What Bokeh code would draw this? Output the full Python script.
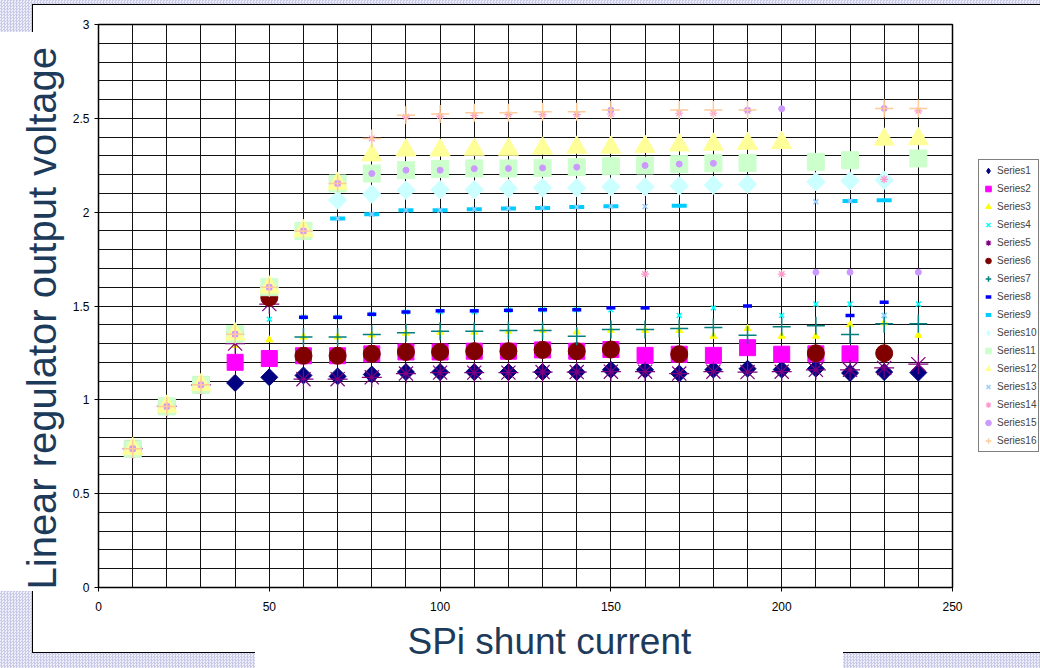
import numpy as np
from bokeh.plotting import figure
from bokeh.layouts import row
from bokeh.models import Range1d, FixedTicker, Title
from bokeh.embed import file_html
from bokeh.resources import INLINE

nan = float("nan")

x_vals = [10, 20, 30, 40, 50, 60, 70, 80, 90, 100, 110, 120, 130, 140, 150, 160, 170, 180, 190, 200, 210, 220, 230, 240]

s1 = [0.74, 0.965, 1.08, 1.09, 1.12, 1.13, 1.125, 1.135, 1.148, 1.148, 1.148, 1.148, 1.148, 1.148, 1.16, 1.16, 1.14, 1.161, 1.166, 1.161, 1.166, 1.143, 1.148, 1.145]
s2 = [0.74, 0.965, 1.08, 1.2, 1.22, 1.235, 1.235, 1.245, 1.255, 1.255, 1.259, 1.259, 1.266, 1.259, 1.268, 1.237, 1.243, 1.237, 1.278, 1.243, 1.245, 1.245, nan, nan]
s3 = [0.74, 0.965, 1.08, 1.29, 1.32, 1.335, 1.335, 1.345, 1.355, 1.36, 1.36, 1.365, 1.37, 1.362, 1.37, 1.37, 1.37, 1.339, 1.38, 1.339, 1.339, 1.4, 1.41, 1.344]
s4 = [0.74, 0.965, 1.08, 1.35, 1.43, 1.44, 1.44, 1.456, 1.468, 1.47, 1.47, 1.477, 1.48, 1.48, 1.48, nan, 1.45, 1.49, nan, 1.45, 1.51, 1.51, 1.45, 1.51]
s5 = [0.74, 0.965, 1.08, 1.3, 1.51, 1.11, 1.11, 1.12, 1.14, 1.145, 1.145, 1.145, 1.148, 1.148, 1.15, 1.15, 1.14, 1.15, 1.148, 1.15, 1.16, 1.16, 1.17, 1.19]
s6 = [0.74, 0.965, 1.08, 1.35, 1.545, 1.235, 1.235, 1.245, 1.255, 1.255, 1.259, 1.259, 1.266, 1.259, 1.268, nan, 1.243, nan, nan, nan, 1.248, nan, 1.248, nan]
s7 = [0.74, 0.965, 1.08, 1.35, 1.6, 1.335, 1.335, 1.348, 1.358, 1.365, 1.365, 1.37, 1.37, 1.339, 1.375, 1.375, 1.38, 1.385, 1.344, 1.39, 1.395, 1.348, 1.405, 1.405]
s8 = [0.74, 0.965, 1.08, 1.35, 1.6, 1.44, 1.44, 1.456, 1.468, 1.474, 1.474, 1.477, 1.48, 1.48, 1.49, 1.49, nan, nan, 1.5, nan, nan, 1.45, 1.52, nan]
s9 = [0.74, 0.965, 1.08, 1.35, 1.6, 1.9, 1.966, 1.989, 2.01, 2.01, 2.016, 2.02, 2.022, 2.027, 2.032, nan, 2.034, nan, nan, nan, nan, 2.059, 2.064, nan]
s10 = [0.74, 0.965, 1.08, 1.35, 1.6, 1.9, 2.064, 2.096, 2.117, 2.12, 2.12, 2.126, 2.13, 2.13, 2.135, 2.135, 2.14, 2.144, 2.149, nan, 2.162, 2.167, 2.17, nan]
s11 = [0.74, 0.965, 1.08, 1.35, 1.6, 1.9, 2.153, 2.206, 2.224, 2.23, 2.233, 2.233, 2.236, 2.24, 2.245, 2.249, 2.256, 2.26, 2.262, nan, 2.268, 2.277, nan, 2.286]
s12 = [0.74, 0.965, 1.08, 1.35, 1.6, 1.9, 2.153, 2.304, 2.33, 2.33, 2.334, 2.334, 2.34, 2.345, 2.345, 2.349, 2.357, 2.361, 2.366, 2.37, nan, nan, 2.388, 2.39]
s13 = [0.74, 0.965, 1.08, 1.35, 1.6, 1.9, 1.966, 1.989, 2.01, 2.01, 2.016, 2.02, 2.022, 2.027, 2.032, 2.03, nan, nan, nan, nan, 2.055, 2.059, 1.45, nan]
s14 = [0.74, 0.965, 1.08, 1.35, 1.6, 1.9, 2.153, 2.393, 2.508, 2.512, 2.516, 2.52, 2.52, 2.52, 2.523, 1.67, 2.527, 2.527, 2.54, 1.67, nan, nan, 2.175, 2.54]
s15 = [0.74, 0.965, 1.08, 1.35, 1.6, 1.9, 2.153, 2.206, 2.224, 2.224, 2.232, 2.233, 2.236, 2.24, 2.544, 2.249, 2.256, 2.26, 2.544, 2.551, 1.68, 1.68, 2.553, 1.68]
s16 = [0.74, 0.965, 1.08, 1.35, 1.6, 1.9, 2.153, 2.393, 2.517, 2.523, 2.53, 2.53, 2.535, 2.535, 2.544, nan, 2.544, 2.544, 2.544, nan, nan, nan, 2.553, 2.553]

series_names = ["Series%d" % i for i in range(1, 17)]
series_values = [s1, s2, s3, s4, s5, s6, s7, s8, s9, s10, s11, s12, s13, s14, s15, s16]

x_ticks = [0, 50, 100, 150, 200, 250]
y_ticks = [0, 0.5, 1, 1.5, 2, 2.5, 3]
x_title = "SPi shunt current"
y_title = "Linear regulator output voltage"

# marker styles: (marker, size, color, line_width, angle)
styles = [
    ("square", 12, "#000080", 1, np.pi / 4),
    ("square", 16, "#FF00FF", 1, 0),
    ("triangle", 7, "#FFFF00", 1, 0),
    ("x", 7, "#00FFFF", 1.5, 0),
    ("asterisk", 20, "#800080", 1.2, 0),
    ("circle", 17, "#800000", 1, 0),
    ("cross", 18, "#008080", 1.5, 0),
    ("dash", 9, "#0000FF", 3.5, 0),
    ("dash", 15, "#00CCFF", 4, 0),
    ("square", 13, "#CCFFFF", 1, np.pi / 4),
    ("square", 17, "#CCFFCC", 1, 0),
    ("triangle", 20, "#FFFF99", 1, 0),
    ("x", 7, "#99CCFF", 1.5, 0),
    ("asterisk", 8, "#FF99CC", 1.2, 0),
    ("circle", 6, "#CC99FF", 1, 0),
    ("cross", 18, "#FFCC99", 1.5, 0),
]

W, H = 1040, 668
PW = 965  # width of the chart figure; the legend strip takes the rest
FONT = "Liberation Sans"
TCOL = "#1c3a5a"

p = figure(width=PW, height=H, frame_width=854, frame_height=563,
           output_backend="svg", toolbar_location=None,
           x_range=Range1d(0, 250), y_range=Range1d(0, 3),
           min_border_left=98, min_border_right=PW - 98 - 854, min_border_top=24, min_border_bottom=81)
p.border_fill_alpha = 0
p.background_fill_color = "white"
p.outline_line_color = "black"
p.outline_line_width = 1.5

for ax, ticks in ((p.xaxis[0], x_ticks), (p.yaxis[0], y_ticks)):
    ax.ticker = FixedTicker(ticks=ticks)
    ax.major_label_text_font = FONT
    ax.major_label_text_font_size = "12px"
    ax.major_label_text_color = "black"
    ax.axis_line_color = "black"
    ax.major_tick_line_color = "black"
    ax.major_tick_out = 4
    ax.major_tick_in = 0
    ax.minor_tick_line_color = None
p.xaxis.major_label_standoff = 10
p.yaxis.major_label_standoff = 5

p.add_layout(Title(text=y_title, align="left", offset=-2, standoff=12,
                   text_font=FONT, text_font_size="40px", text_font_style="normal",
                   text_color=TCOL), "left")
p.add_layout(Title(text=x_title, align="left", offset=309, standoff=11,
                   text_font=FONT, text_font_size="37px", text_font_style="normal",
                   text_color=TCOL), "below")

p.xgrid.ticker = FixedTicker(ticks=list(range(0, 251, 10)))
p.ygrid.ticker = FixedTicker(ticks=[i / 10 for i in range(0, 31)])
for g in (p.xgrid[0], p.ygrid[0]):
    g.grid_line_color = "#111111"
    g.grid_line_width = 1

# legend strip: same series, drawn through its own scales (points fall outside its view)
q = figure(width=W - PW, height=H, output_backend="svg", toolbar_location=None,
           x_axis_type=None, y_axis_type=None,
           x_range=Range1d(0, 250), y_range=Range1d(10, 11),
           min_border=0, min_border_left=0, min_border_right=0, min_border_top=0, min_border_bottom=0)
q.border_fill_alpha = 0
q.background_fill_alpha = 0
q.outline_line_color = None

for name, vals, (mk, sz, col, lw, ang) in zip(series_names, series_values, styles):
    kw = dict(size=sz, fill_color=col, line_color=col, line_width=lw)
    p.scatter(x_vals, vals, marker=mk, angle=ang, **kw)
    # legend glyphs ignore angle, so rotated squares are shown as diamonds there
    q.scatter(x_vals, vals, marker="diamond" if ang else mk, legend_label=name, **kw)

lg = q.legend[0]
lg.label_text_font = FONT
lg.label_text_font_size = "10px"
lg.glyph_width = 14
lg.glyph_height = 17
lg.label_height = 17
lg.label_standoff = 2
lg.spacing = 1
lg.padding = 2
lg.margin = 0
lg.border_line_color = "black"
lg.border_line_width = 1
lg.background_fill_color = "white"
lg.background_fill_alpha = 1
lg.location = (13, 135)

# page pattern, white panel and title boxes painted behind the transparent canvases
def lay(color, x, y, w, h):
    return "linear-gradient(%s,%s) %dpx %dpx / %dpx %dpx no-repeat" % (color, color, x, y, w, h)

layers = [
    lay("#000", 32, 4, 1008, 1),
    lay("#000", 32, 4, 1, 28),
    lay("#000", 32, 591, 1, 62),
    lay("#000", 32, 652, 223, 1),
    lay("#000", 843, 652, 197, 1),
    lay("#fff", 0, 32, 33, 559),
    lay("#fff", 255, 652, 588, 16),
    lay("#fff", 32, 4, 1008, 649),
    "conic-gradient(#c9c9e8 25%, #f0f0fa 0 50%, #c9c9e8 0 75%, #f0f0fa 0) 0 0 / 3px 3px",
]
layout = row(p, q, spacing=0)
layout.styles = {"background": ", ".join(layers)}

open("out.html", "w").write(file_html(layout, INLINE))
